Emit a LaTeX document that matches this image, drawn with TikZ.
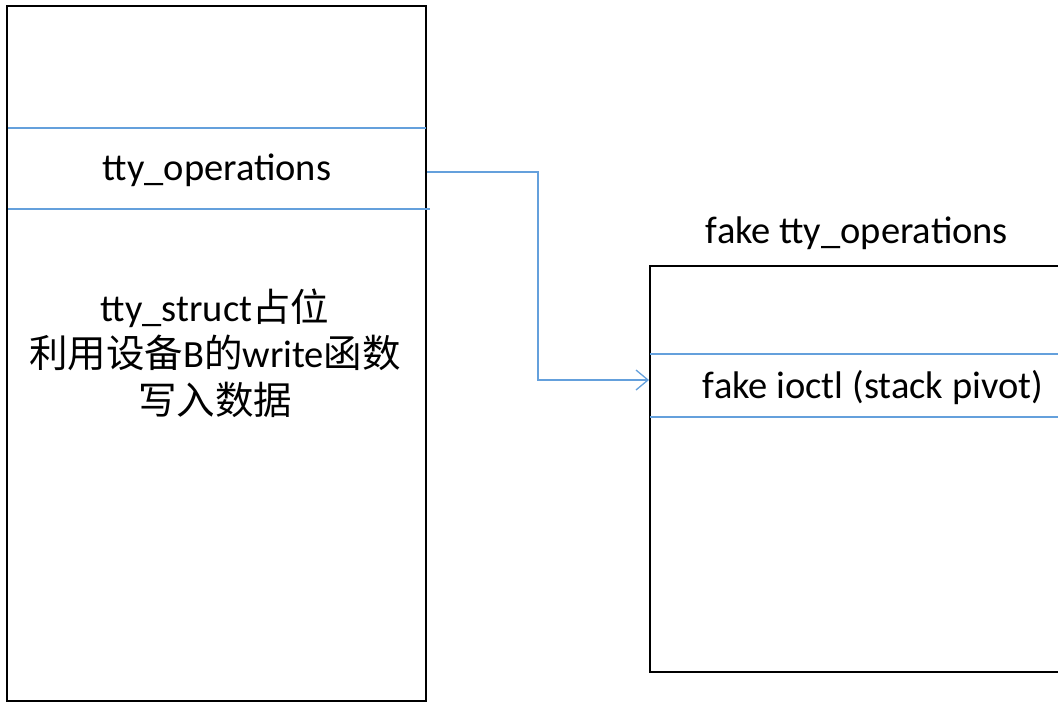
\documentclass[tikz,border=0pt]{standalone}
\usepackage{fontspec}
\setmainfont{Carlito}
\newfontfamily\cjk{Noto Sans CJK SC}
\usetikzlibrary{arrows.meta}
\definecolor{lineblue}{RGB}{100,160,220}
\begin{document}
\begin{tikzpicture}[x=1pt,y=-1pt,
  box/.style={draw=black,line width=1.5pt},
  sep/.style={draw=lineblue,line width=1.3pt},
  lbl/.style={font=\fontsize{38.5}{46.5}\selectfont,inner sep=0pt,align=center},
  conn/.style={draw=lineblue,line width=1.3pt,-{Straight Barb[length=12pt,width=20pt,line width=1.3pt]}}]
\useasboundingbox (0,0) rectangle (1058,702);
% left block
\draw[box] (7,6) rectangle (426,701);
\draw[sep] (8,128) -- (426,128);
\draw[sep] (8,209) -- (430,209);
\node[lbl] (ops) at (217,170) {tty\_operations};
\node[lbl] (tsl) at (215,353) {tty\_struct{\cjk 占位}\\{\cjk 利用设备}B{\cjk 的}write{\cjk 函数}\\{\cjk 写入数据}};
% right block
\draw[box] (1070,266) -- (650,266) -- (650,672) -- (1070,672);
\draw[sep] (650,354) -- (1058,354);
\draw[sep] (650,417) -- (1058,417);
\node[lbl] (title) at (857,233) {fake tty\_operations};
\node[lbl] (ioctl) at (873,388) {fake ioctl (stack pivot)};
\coordinate (src) at (427,172);
\coordinate (dst) at (649,380);
\draw[conn] (src) -- (538,172) -- (538,380) -- (dst);
\end{tikzpicture}
\end{document}
